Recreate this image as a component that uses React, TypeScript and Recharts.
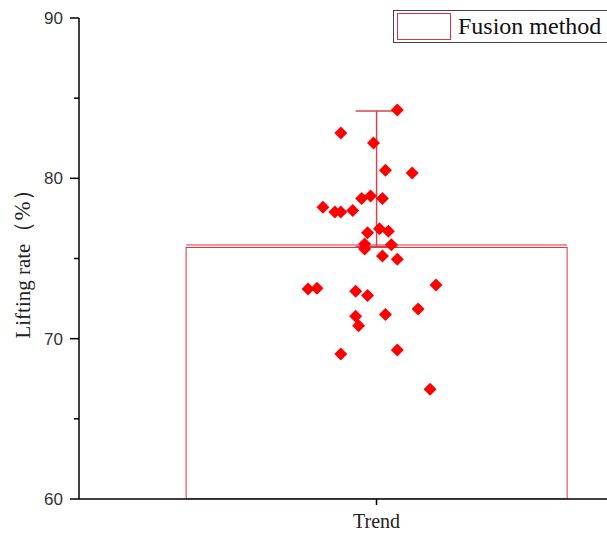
import { Bar, ComposedChart, ErrorBar, Scatter, XAxis, YAxis } from "recharts";

const CATEGORIES = ["Trend"];
const MEANS = [75.75];
const ERR_UP = [8.45];
const SERIES_NAME = "Fusion method";
const Y_LABEL = "Lifting rate";
const Y_UNIT = "（%）";
const Y_TICKS = [60, 65, 70, 75, 80, 85, 90];

// horizontal jitter (fraction of half plot width) and lifting rate of each sample
const JITTER = [
  0.07, -0.12, -0.01, 0.03, 0.12, -0.18, -0.14, -0.12, -0.08, -0.05, -0.02, 0.02, -0.03, 0.01, 0.04, -0.04,
  -0.04, 0.05, 0.02, 0.07, -0.23, -0.2, -0.07, -0.03, 0.2, -0.07, -0.06, 0.03, 0.14, -0.12, 0.07, 0.18,
];
const RATES = [
  84.26, 82.83, 82.2, 80.5, 80.33, 78.2, 77.9, 77.9, 78.0, 78.75, 78.9, 78.75, 76.6, 76.85, 76.7, 75.9,
  75.6, 75.85, 75.15, 74.95, 73.1, 73.15, 72.95, 72.7, 73.35, 71.4, 70.8, 71.5, 71.85, 69.05, 69.3, 66.85,
];

const SERIF = "'Liberation Serif', 'Times New Roman', serif";
const SANS = "'Liberation Sans', Arial, sans-serif";
const BAR_RED = "#e0303a";
const ERR_RED = "#d24650";
const DOT_RED = "#ff0000";

const barRows = CATEGORIES.map((name, i) => ({ name, mean: MEANS[i], err: [0, ERR_UP[i]] }));
const points = RATES.map((v, i) => ({ j: JITTER[i], v }));

function DoubleTopBar(props: any) {
  const { x, y, width, height } = props;
  return (
    <g>
      <rect x={x} y={y + 1} width={width} height={height - 1} fill="none" stroke={BAR_RED} strokeWidth={1} />
      <line x1={x} x2={x + width} y1={y - 1.5} y2={y - 1.5} stroke={BAR_RED} strokeWidth={1} />
    </g>
  );
}

function Diamond(props: any) {
  const { cx, cy } = props;
  const r = 6.5;
  return <path d={`M${cx},${cy - r}L${cx + r},${cy}L${cx},${cy + r}L${cx - r},${cy}Z`} fill={DOT_RED} />;
}

function YTick(props: any) {
  const { x, y, payload } = props;
  const major = payload.value % 10 === 0;
  return (
    <g>
      <line x1={x - (major ? 9 : 5)} x2={x} y1={y} y2={y} stroke="#000" strokeWidth={1.5} />
      {major && (
        <text x={x - 16} y={y} dy="0.35em" textAnchor="end" fontFamily={SANS} fontSize={17} fill="#333">
          {payload.value}
        </text>
      )}
    </g>
  );
}

function YLabel(props: any) {
  const { viewBox } = props;
  const cx = viewBox.x + 23;
  const cy = viewBox.y + viewBox.height / 2;
  return (
    <text x={cx} y={cy} transform={`rotate(-90 ${cx} ${cy})`} textAnchor="middle" dy="0.35em" fontFamily={SERIF} fontSize={21} fill="#222">
      {Y_LABEL}
      <tspan fontSize={23}>{Y_UNIT}</tspan>
    </text>
  );
}

function LegendBox() {
  return (
    <div
      style={{
        position: "absolute",
        top: 10,
        left: 393,
        display: "flex",
        alignItems: "center",
        height: 31,
        width: 240,
        border: "1px solid #444",
        background: "#fff",
      }}
    >
      <div style={{ width: 52, height: 25, border: `1.5px solid ${BAR_RED}`, marginLeft: 3 }} />
      <span style={{ fontFamily: SERIF, fontSize: 24, color: "#111", marginLeft: 7, whiteSpace: "nowrap" }}>{SERIES_NAME}</span>
    </div>
  );
}

export default function App() {
  return (
    <div style={{ position: "fixed", left: 0, top: 0, width: 607, height: 534, overflow: "hidden", background: "#fff" }}>
      <ComposedChart width={700} height={534} data={barRows} margin={{ top: 18, right: 26, bottom: 0, left: 0 }} barCategoryGap="18%">
        <XAxis
          xAxisId="cat"
          dataKey="name"
          height={35}
          tickSize={6}
          tickMargin={9}
          tick={{ fontFamily: SERIF, fontSize: 20, fill: "#222" }}
          axisLine={{ stroke: "#000", strokeWidth: 1.5 }}
          tickLine={{ stroke: "#000", strokeWidth: 1.5 }}
        />
        <XAxis xAxisId="num" type="number" dataKey="j" domain={[-1, 1]} allowDataOverflow hide />
        <YAxis
          width={79}
          domain={[60, 90]}
          ticks={Y_TICKS}
          interval={0}
          allowDataOverflow
          tickSize={0}
          tickMargin={0}
          tickLine={false}
          tick={<YTick />}
          axisLine={{ stroke: "#000", strokeWidth: 1.5 }}
          label={<YLabel />}
        />
        <Bar xAxisId="cat" dataKey="mean" name={SERIES_NAME} shape={<DoubleTopBar />} isAnimationActive={false}>
          <ErrorBar dataKey="err" direction="y" width={21} stroke={ERR_RED} strokeWidth={1.5} isAnimationActive={false} />
        </Bar>
        <Scatter xAxisId="num" data={points} dataKey="v" shape={<Diamond />} isAnimationActive={false} />
      </ComposedChart>
      <LegendBox />
    </div>
  );
}
